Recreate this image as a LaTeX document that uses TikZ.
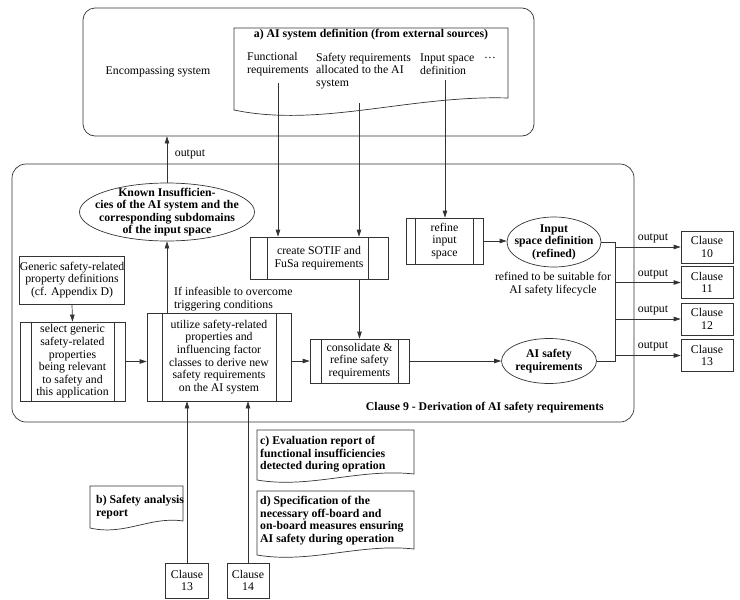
\documentclass[tikz,border=0pt]{standalone}
\usepackage{fontspec}
\setmainfont{Liberation Serif}
\usetikzlibrary{shapes.geometric,arrows.meta,calc}
\newcommand\proclines[3]{%
  \draw[ln] ([xshift=#2pt]#1.north west) -- ([xshift=#2pt]#1.south west);
  \draw[ln] ([xshift=-#3pt]#1.north east) -- ([xshift=-#3pt]#1.south east);}
\begin{document}
\begin{tikzpicture}[x=1pt,y=-1pt,
  ln/.style={draw=black!80, line width=0.7pt},
  arr/.style={ln, -{Triangle[length=7pt,width=4.5pt]}},
  txt/.style={font=\fontsize{11.8}{12.6}\selectfont, inner sep=0pt, align=center, text=black},
  tb/.style={txt, font=\fontsize{11.8}{12.6}\selectfont\bfseries},
  box/.style={ln, rectangle, inner sep=0pt, align=center, font=\fontsize{11.8}{12.6}\selectfont},
  ell/.style={ln, ellipse, inner sep=0pt},
]
\fill[white] (0,0) rectangle (740,600);
\useasboundingbox (0,0) rectangle (740,600);

% encompassing system
\node[ln, rectangle, rounded corners=12pt, minimum width=451pt, minimum height=128pt] (enc) at (308.5,72) {};
\node[txt] (enctxt) at (158,72) {Encompassing system};

% a) document
\draw[ln] (234,28) -- (508,28) -- (508,98) .. controls (410,95) and (320,128) .. (234,110) -- cycle;
\node[tb] (atitle) at (371,35) {a) AI system definition (from external sources)};
\node[txt, anchor=west, align=left] (afun) at (247,64) {Functional\\requirements};
\node[txt, anchor=west, align=left] (asaf) at (316,71) {Safety requirements\\allocated to the AI\\system};
\node[txt, anchor=west, align=left] (ainp) at (420,64) {Input space\\definition};
\node[txt] (adots) at (490,58) {\dots};
\coordinate (fA) at (278,83);
\coordinate (sA) at (359,103);
\coordinate (iA) at (445,80);

% clause 9 frame
\node[ln, rectangle, rounded corners=14pt, minimum width=622pt, minimum height=258pt] (c9) at (323,293) {};
\node[tb, anchor=east] (c9title) at (604,408) {Clause 9 - Derivation of AI safety requirements};

% known insufficiencies
\node[ell, minimum width=175pt, minimum height=58pt] (known) at (167,212) {};
\node[tb] (knowntxt) at (known.center) {Known Insufficien-\\cies of the AI system and the\\corresponding subdomains\\of the input space};
\node[txt] (outlbl) at (190,154) {output};

% process boxes
\node[box, minimum width=138pt, minimum height=42pt] (sotif) at (319,258) {create SOTIF and\\FuSa requirements};
\proclines{sotif}{18}{20}
\node[box, minimum width=99pt, minimum height=44pt] (cons) at (359.5,361) {consolidate \&\\refine safety\\requirements};
\proclines{cons}{12}{11}
\node[box, minimum width=77pt, minimum height=46pt] (refine) at (444.5,241) {refine\\input\\space};
\proclines{refine}{10}{10}
\node[box, minimum width=104pt, minimum height=48pt] (gen) at (72,280) {Generic safety-related\\property definitions\\(cf. Appendix D)};
\node[box, minimum width=105pt, minimum height=79pt] (sel) at (72.5,361.5) {select generic\\safety-related\\properties\\being relevant\\to safety and\\this application};
\proclines{sel}{12}{11}
\node[box, minimum width=144pt, minimum height=88pt] (util) at (219,357) {utilize safety-related\\properties and\\influencing factor\\classes to derive new\\safety requirements\\on the AI system};
\proclines{util}{16}{15}
\node[txt, anchor=west, align=left] (infeas) at (174,299) {If infeasible to overcome\\triggering conditions};

% ellipses right
\node[ell, minimum width=94pt, minimum height=50pt] (inp) at (554,242) {};
\node[tb] (inptxt) at (inp.center) {Input\\space definition\\(refined)};
\node[txt] (refnote) at (553,284) {refined to be suitable for\\AI safety lifecycle};
\node[ell, minimum width=95pt, minimum height=45pt] (ais) at (549,361) {};
\node[tb] (aistxt) at (ais.center) {AI safety\\requirements};

% clause boxes right
\node[box, minimum width=52pt, minimum height=32pt] (c10) at (707,247) {Clause\\10};
\node[box, minimum width=52pt, minimum height=32pt] (c11) at (707,282.5) {Clause\\11};
\node[box, minimum width=52pt, minimum height=32pt] (c12) at (707,319) {Clause\\12};
\node[box, minimum width=52pt, minimum height=32pt] (c13r) at (707,355.5) {Clause\\13};
\node[txt] (o10) at (653,238) {output};
\node[txt] (o11) at (653,274) {output};
\node[txt] (o12) at (653,310) {output};
\node[txt] (o13) at (653,346) {output};
\coordinate (jx) at (615,0);

% bottom clause boxes
\node[box, minimum width=43pt, minimum height=35pt] (c13) at (187,580.5) {Clause\\13};
\node[box, minimum width=42pt, minimum height=35pt] (c14) at (248,580.5) {Clause\\14};

% documents b, c, d
\draw[ln] (90,486) -- (183,486) -- (183,521) .. controls (150,516) and (125,536) .. (90,528) -- cycle;
\node[tb, anchor=west, align=left] (btxt) at (96,507) {b) Safety analysis\\report};
\draw[ln] (257,430) -- (414,430) -- (414,474) .. controls (360,468) and (310,489) .. (257,480) -- cycle;
\node[tb, anchor=west, align=left] (ctxt) at (260,454.5) {c) Evaluation report of\\functional insufficiencies\\detected during opration};
\draw[ln] (257,491) -- (414,491) -- (414,549) .. controls (360,543) and (310,564) .. (257,555) -- cycle;
\node[tb, anchor=west, align=left] (dtxt) at (260,520.5) {d) Specification of the\\necessary off-board and\\on-board measures ensuring\\AI safety during operation};

% connectors
\draw[arr] (known.north) -- (known.north |- enc.south);
\draw[arr] (fA) -- (fA |- sotif.north);
\draw[arr] (sA) -- (sA |- sotif.north);
\draw[arr] (iA) -- (iA |- refine.north);
\draw[arr] (cons.north |- sotif.south) -- (cons.north);
\draw[arr] (refine.east) -- (refine.east -| inp.west);
\draw[arr] (cons.east) -- (cons.east -| ais.west);
\draw[ln] (inp.east) -- (inp.east -| jx) -- (ais.east -| jx) -- (ais.east);
\draw[arr] (c10.west -| jx) -- (c10.west);
\draw[arr] (c11.west -| jx) -- (c11.west);
\draw[arr] (c12.west -| jx) -- (c12.west);
\draw[arr] (c13r.west -| jx) -- (c13r.west);
\draw[arr] (gen.south) -- (sel.north);
\draw[arr] (sel.east) -- (sel.east -| util.west);
\draw[arr] (util.east |- cons.west) -- (cons.west);
\draw[arr] (known.south |- util.north) -- (known.south);
\draw[arr] (c13.north) -- (c13.north |- util.south);
\draw[arr] (c14.north) -- (c14.north |- util.south);
\end{tikzpicture}
\end{document}
